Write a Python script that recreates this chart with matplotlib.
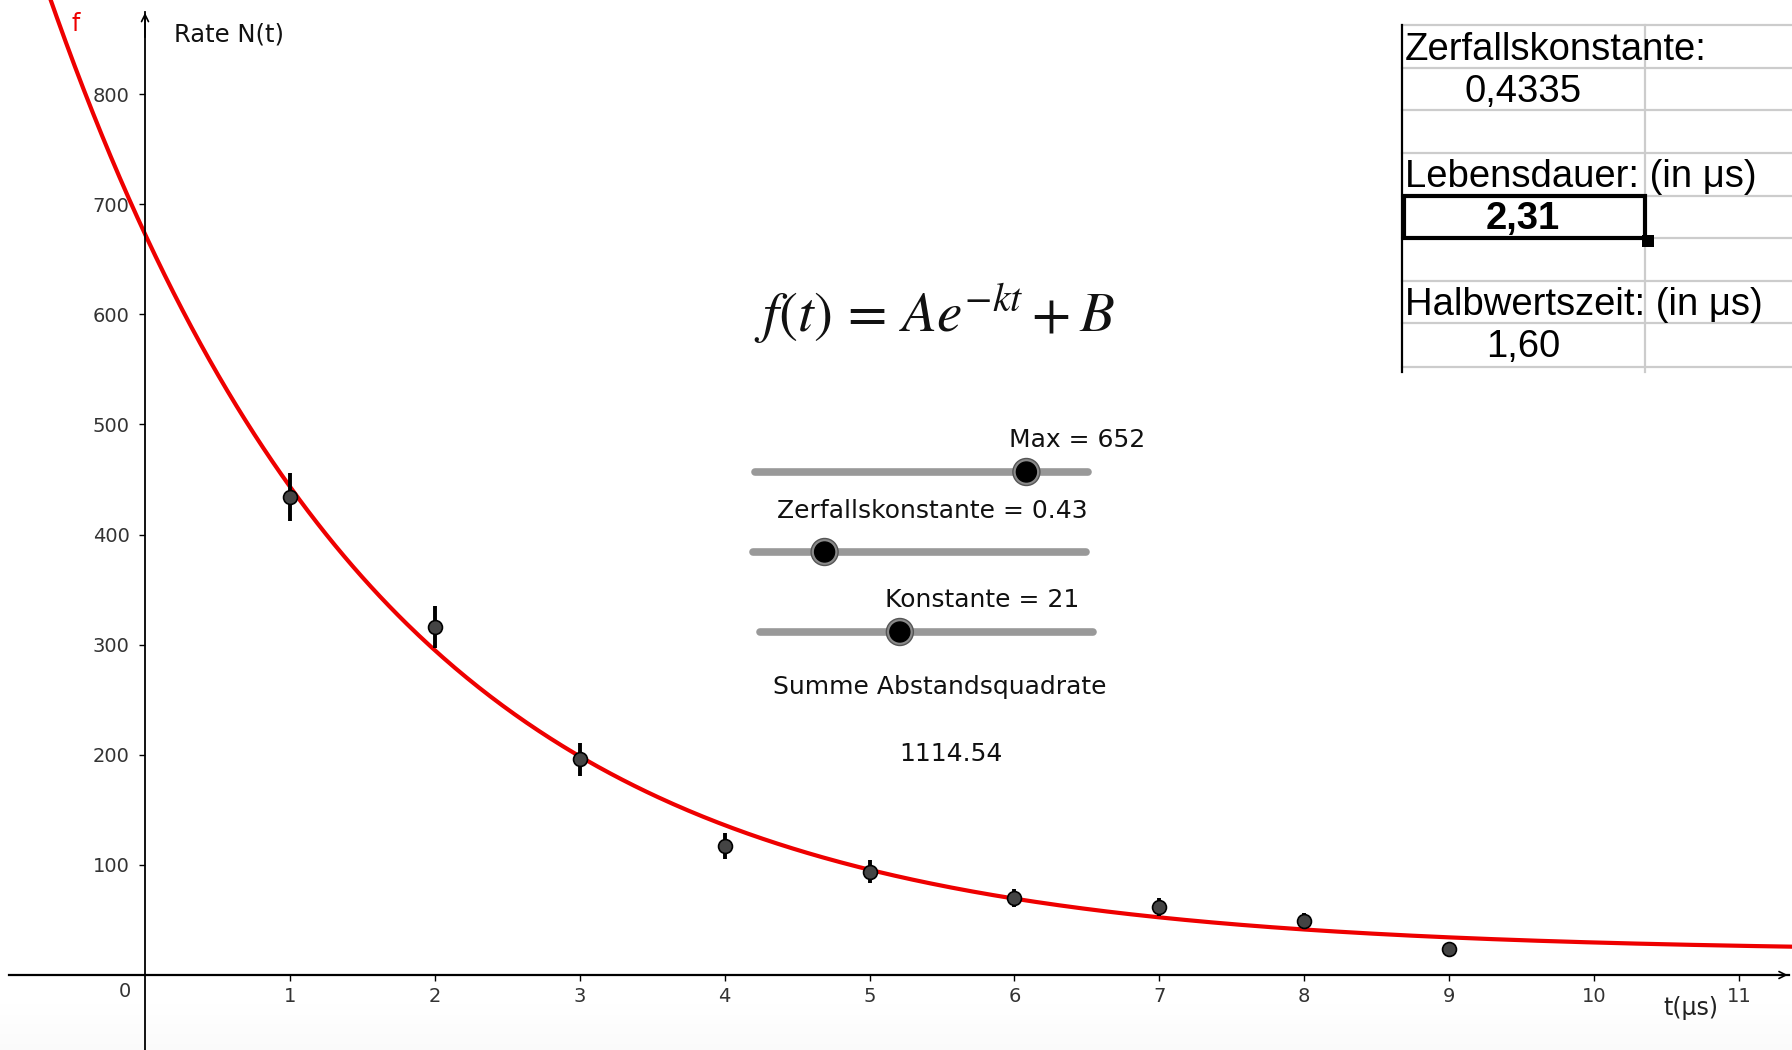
import numpy as np
import matplotlib.pyplot as plt
from matplotlib.patches import Rectangle, Circle

# measured decay rates with error bars
t_data = [1, 2, 3, 4, 5, 6, 7, 8, 9]
rate = [434, 316, 196, 117, 94, 70, 62, 49, 24]
rate_err = [22, 19, 15, 12, 10, 8, 8, 7, 5]

# fit parameters f(t) = A*exp(-k t) + B
A_max = 652
k_decay = 0.4335
B_const = 21
sum_sq = "1114.54"

# slider states: label, value, range min, range max
slider_names = ["Max", "Zerfallskonstante", "Konstante"]
slider_vals = [A_max, 0.43, B_const]
slider_lo = [0, 0, 0]
slider_hi = [800, 2, 50]
slider_fmt = ["{:.0f}", "{:.2f}", "{:.0f}"]

x_ticks = [1, 2, 3, 4, 5, 6, 7, 8, 9, 10, 11]
y_ticks = [100, 200, 300, 400, 500, 600, 700, 800]

W, H = 1792, 1050
fig = plt.figure(figsize=(W / 100, H / 100), dpi=100)

# pixel mapping of the graphics view
x0_px, x_scale = 145, 144.9
y0_px, y_scale = 975, 1.101
xlim = (-x0_px / x_scale, (W - x0_px) / x_scale)
ylim = ((y0_px - H) / y_scale, y0_px / y_scale)

# faint grey strip at the bottom
bg = fig.add_axes([0, 0, 1, 1], zorder=0)
bg.set_xlim(0, W)
bg.set_ylim(H, 0)
bg.axis('off')
grad = np.linspace(0, 1, 50).reshape(-1, 1)
bg.imshow(grad, extent=(0, W, H, 1000), cmap='Greys', vmin=0, vmax=25,
          aspect='auto', interpolation='bilinear')

ax = fig.add_axes([0, 0, 1, 1], zorder=1)
ax.patch.set_alpha(0)
ax.set_xlim(*xlim)
ax.set_ylim(*ylim)

for s in ['top', 'right']:
    ax.spines[s].set_visible(False)
ax.spines['left'].set_position(('data', 0))
ax.spines['bottom'].set_position(('data', 0))
ax.spines['left'].set_bounds(ylim[0], (y0_px - 12) / y_scale)
ax.spines['bottom'].set_bounds((9 - x0_px) / x_scale, (1789 - x0_px) / x_scale)
ax.spines['left'].set_linewidth(1.3)
ax.spines['bottom'].set_linewidth(1.6)

ax.set_xticks(x_ticks)
ax.set_yticks(y_ticks)
ax.tick_params(axis='x', direction='out', length=4, width=1, pad=5,
               labelsize=14, labelcolor='#333333')
ax.tick_params(axis='y', direction='out', length=4, width=1, pad=7,
               labelsize=14, labelcolor='#333333')
ax.text(-0.1, -6, "0", ha='right', va='top', fontsize=14, color='#333333')

# arrow heads on the axes
ax.annotate('', xy=(xlim[1] - 0.01, 0), xytext=(xlim[1] - 0.2, 0),
            arrowprops=dict(arrowstyle='->,head_length=0.5,head_width=0.25', lw=1.2, color='black'))
ax.annotate('', xy=(0, (y0_px - 10) / y_scale), xytext=(0, (y0_px - 40) / y_scale),
            arrowprops=dict(arrowstyle='->,head_length=0.5,head_width=0.25', lw=1.2, color='black'))

ax.text(0.2, (y0_px - 35) / y_scale, "Rate N(t)", fontsize=17.5, va='center', ha='left', color='#111111')
ax.text(10.67, -30, "t(μs)", fontsize=17, va='center', ha='center', color='#222222')

# fitted curve
tt = np.linspace(xlim[0], xlim[1], 600)
ax.plot(tt, A_max * np.exp(-k_decay * tt) + B_const, color='#ee0000', lw=3, zorder=2)
ax.text(-0.48, 864, "f", color='#ee0000', fontsize=17, va='center', ha='center')

# data points
ax.errorbar(t_data, rate, yerr=rate_err, fmt='none', ecolor='black', elinewidth=2.8, zorder=3)
ax.plot(t_data, rate, 'o', ms=10, mfc='#444444', mec='black', mew=1.2, zorder=4)

# overlay in pixel coordinates: formula, sliders, spreadsheet
ov = fig.add_axes([0, 0, 1, 1], zorder=2)
ov.patch.set_alpha(0)
ov.set_xlim(0, W)
ov.set_ylim(H, 0)
ov.axis('off')

plt.rcParams['mathtext.fontset'] = 'stix'
ov.text(934, 314, r'$f(t)\,=\,Ae^{-kt}+B$', fontsize=41, ha='center', va='center', color='#111111')

track_x0 = [755, 753, 760]
track_x1 = [1088, 1086, 1093]
track_y = [472, 552, 632]
label_x = [1077, 932, 982]
label_y = [440, 511, 600]
for i in range(3):
    ov.plot([track_x0[i], track_x1[i]], [track_y[i], track_y[i]], color='#999999',
            lw=5.5, solid_capstyle='round', zorder=1)
    frac = (slider_vals[i] - slider_lo[i]) / (slider_hi[i] - slider_lo[i])
    kx = track_x0[i] + frac * (track_x1[i] - track_x0[i])
    ov.add_patch(Circle((kx, track_y[i]), 13.5, facecolor='#8a8a8a', edgecolor='#555555', lw=1, zorder=2))
    ov.add_patch(Circle((kx, track_y[i]), 10, facecolor='black', edgecolor='black', zorder=3))
    ov.text(label_x[i], label_y[i], slider_names[i] + " = " + slider_fmt[i].format(slider_vals[i]),
            fontsize=18, ha='center', va='center', color='#111111')

ov.text(940, 687, "Summe Abstandsquadrate", fontsize=18, ha='center', va='center', color='#111111')
ov.text(951, 754, sum_sq, fontsize=18, ha='center', va='center', color='#111111')

# spreadsheet view
row_lines = [25, 68, 110, 153, 196, 238, 281, 323, 367]
for y in row_lines:
    ov.plot([1402, W], [y, y], color='#cccccc', lw=1.6, zorder=1)
ov.plot([1645, 1645], [25, 372], color='#cccccc', lw=1.6, zorder=1)
ov.plot([1402, 1402], [25, 372], color='black', lw=1.6, zorder=2)

lifetime = 1 / k_decay
half_life = np.log(2) / k_decay
tfont = dict(family='Liberation Sans', fontsize=27.5, color='black', va='center')
ov.text(1405, 50, "Zerfallskonstante:", ha='left', **tfont)
ov.text(1523, 92, f"{k_decay:.4f}".replace('.', ','), ha='center', **tfont)
ov.text(1405, 177, "Lebensdauer: (in μs)", ha='left', **tfont)
ov.text(1523, 219, f"{lifetime:.2f}".replace('.', ','), ha='center', fontweight='bold', **tfont)
ov.text(1405, 305, "Halbwertszeit: (in μs)", ha='left', **tfont)
ov.text(1523, 347, f"{half_life:.2f}".replace('.', ','), ha='center', **tfont)

ov.add_patch(Rectangle((1404, 196), 241, 42, fill=False, edgecolor='black', lw=3, zorder=3))
ov.add_patch(Rectangle((1642, 235), 12, 12, facecolor='black', edgecolor='none', zorder=4))

fig.savefig('out.png', dpi=100)
